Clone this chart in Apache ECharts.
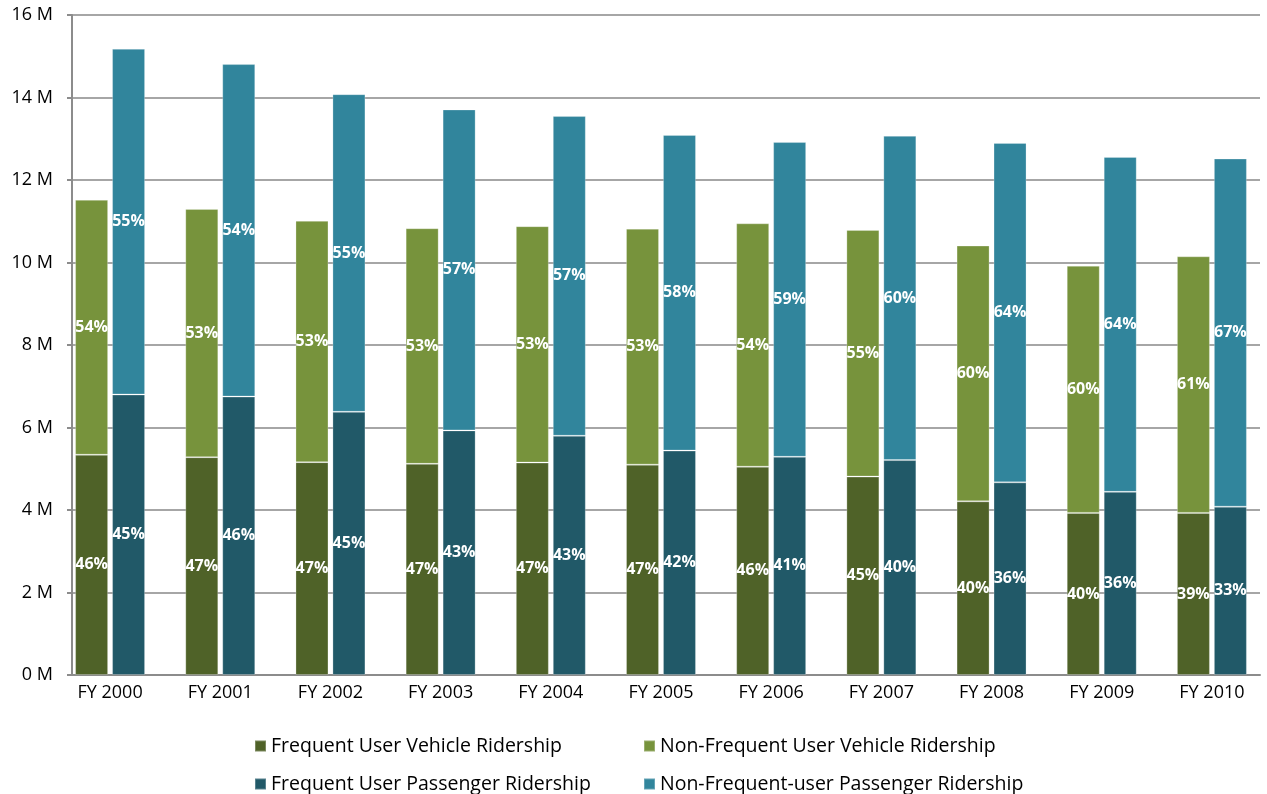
<!DOCTYPE html>
<html>
<head>
<meta charset="utf-8">
<script src="https://cdn.jsdelivr.net/npm/echarts@6/dist/echarts.min.js"></script>
<style>
  html, body { margin: 0; padding: 0; background: #fff; }
  #chart { width: 1267px; height: 794px; }
</style>
</head>
<body>
<div id="chart"></div>
<script>
// fiscal years
const categories = ['FY 2000', 'FY 2001', 'FY 2002', 'FY 2003', 'FY 2004', 'FY 2005',
  'FY 2006', 'FY 2007', 'FY 2008', 'FY 2009', 'FY 2010']

// ridership, millions (segment values, stacked)
const freqVehicle = [5.34, 5.28, 5.16, 5.12, 5.15, 5.10, 5.05, 4.81, 4.21, 3.93, 3.93]
const nonFreqVehicle = [6.18, 6.02, 5.85, 5.71, 5.73, 5.72, 5.90, 5.98, 6.20, 5.99, 6.22]
const freqPassenger = [6.80, 6.75, 6.38, 5.93, 5.80, 5.44, 5.29, 5.21, 4.67, 4.44, 4.08]
const nonFreqPassenger = [8.38, 8.06, 7.70, 7.78, 7.75, 7.65, 7.63, 7.86, 8.23, 8.12, 8.44]

// share labels printed on the bars
const freqVehiclePct = [46, 47, 47, 47, 47, 47, 46, 45, 40, 40, 39]
const nonFreqVehiclePct = [54, 53, 53, 53, 53, 53, 54, 55, 60, 60, 61]
const freqPassengerPct = [45, 46, 45, 43, 43, 42, 41, 40, 36, 36, 33]
const nonFreqPassengerPct = [55, 54, 55, 57, 57, 58, 59, 60, 64, 64, 67]

const yTicks = { min: 0, max: 16, interval: 2 }

const seriesNames = [
  'Frequent User Vehicle Ridership',
  'Non-Frequent User Vehicle Ridership',
  'Frequent User Passenger Ridership',
  'Non-Frequent-user Passenger Ridership'
]

const font = '"Open Sans", sans-serif'

let pctLabel = pcts => ({
  show: true,
  position: 'inside',
  color: '#fff',
  fontFamily: font,
  fontWeight: 'bold',
  fontSize: 16,
  formatter: p => pcts[p.dataIndex] + '%'
})

let makeSeries = (name, data, stack, color, pcts) => ({
  name: name,
  type: 'bar',
  xAxisIndex: 1,
  yAxisIndex: 1,
  stack: stack,
  data: data,
  barWidth: 33,
  barGap: '12%',
  itemStyle: {
    color: color,
    borderColor: 'rgba(255,255,255,0.25)',
    borderWidth: 1
  },
  label: pctLabel(pcts)
})

// one legend per entry so the 2x2 block lines up in columns
let legendAt = (name, left, top) => ({
  data: [name],
  left: left,
  top: top,
  itemWidth: 11,
  itemHeight: 11,
  icon: 'rect',
  textStyle: { fontSize: 19.5, color: '#000', fontFamily: font }
})

const chart = echarts.init(document.getElementById('chart'))
chart.setOption({
  animation: false,
  backgroundColor: '#fff',
  textStyle: { fontFamily: font },
  grid: [
    // frame: y axis + gridlines
    { left: 72, right: 7, top: 15, bottom: 119 },
    // bars, slightly wider band so pairs sit like the original
    { left: 55, right: -12, top: 15, bottom: 119 }
  ],
  xAxis: [
    {
      type: 'category',
      gridIndex: 0,
      data: categories,
      axisLine: { show: true, lineStyle: { color: '#8c8c8c', width: 2 } },
      axisTick: { show: false },
      axisLabel: { show: false }
    },
    {
      type: 'category',
      gridIndex: 1,
      data: categories,
      axisLine: { show: false },
      axisTick: { show: false },
      axisLabel: { color: '#000', fontSize: 18, margin: 9, interval: 0 }
    }
  ],
  yAxis: [
    {
      type: 'value',
      gridIndex: 0,
      min: yTicks.min,
      max: yTicks.max,
      interval: yTicks.interval,
      axisLine: { show: true, lineStyle: { color: '#8c8c8c', width: 2 } },
      axisTick: { show: true, length: 5, lineStyle: { color: '#8c8c8c', width: 2 } },
      splitLine: { lineStyle: { color: '#a6a6a6', width: 2 } },
      axisLabel: {
        color: '#000',
        fontSize: 18,
        margin: 19,
        formatter: v => v + ' M'
      }
    },
    {
      type: 'value',
      gridIndex: 1,
      min: yTicks.min,
      max: yTicks.max,
      interval: yTicks.interval,
      show: false,
      splitLine: { show: false }
    }
  ],
  legend: [
    legendAt(seriesNames[0], 249, 731),
    legendAt(seriesNames[1], 638, 731),
    legendAt(seriesNames[2], 249, 769),
    legendAt(seriesNames[3], 638, 769)
  ],
  series: [
    makeSeries(seriesNames[0], freqVehicle, 'vehicle', '#4f6228', freqVehiclePct),
    makeSeries(seriesNames[1], nonFreqVehicle, 'vehicle', '#77933c', nonFreqVehiclePct),
    makeSeries(seriesNames[2], freqPassenger, 'passenger', '#215968', freqPassengerPct),
    makeSeries(seriesNames[3], nonFreqPassenger, 'passenger', '#31859c', nonFreqPassengerPct)
  ]
})
</script>
</body>
</html>
